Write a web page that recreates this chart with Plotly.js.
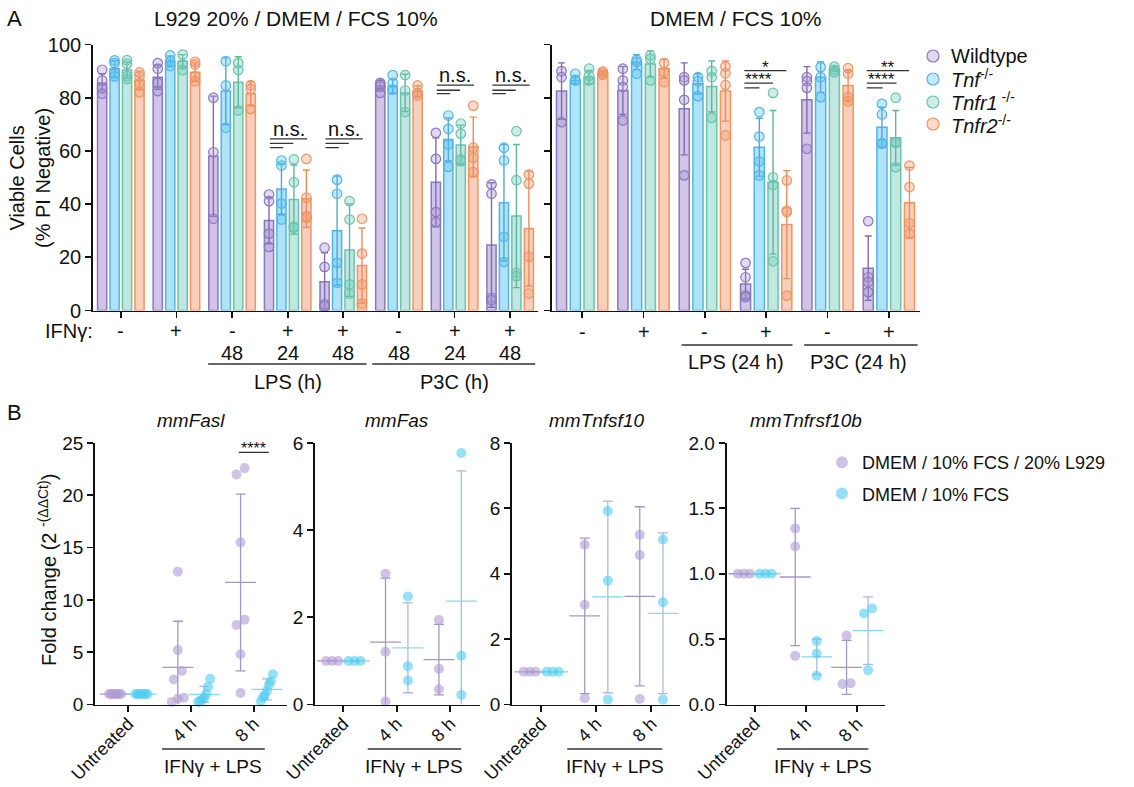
<!DOCTYPE html>
<html><head><meta charset="utf-8">
<script src="https://cdn.plot.ly/plotly-3.0.1.min.js"></script>
<style>html,body{margin:0;padding:0;background:#fff}#chart{width:1134px;height:787px}</style>
</head><body><div id="chart"></div>
<script>
// ---------------- DATA : panel A ----------------
const genotypes = ['Wildtype', '<i>Tnf</i><sup>-/-</sup>', '<i>Tnfr1</i><sup> -/-</sup>', '<i>Tnfr2</i><sup>-/-</sup>'];
// left panel (L929 20% / DMEM / FCS 10%)
const leftIFN = ['-', '+', '-', '+', '+', '-', '+', '+'];
const leftTime = ['', '', '48', '24', '48', '48', '24', '48'];
const leftMeanWT    = [85.5, 87.7, 58.0, 33.8, 10.8, 84.5, 48.2, 24.6];
const leftMeanTnf   = [90.9, 93.7, 82.5, 45.7, 30.0, 84.3, 64.3, 40.5];
const leftMeanTnfr1 = [90.4, 93.7, 85.8, 41.7, 22.7, 81.8, 62.2, 35.5];
const leftMeanTnfr2 = [86.5, 89.6, 81.5, 42.0, 16.9, 82.5, 61.5, 30.8];
const leftSdWT    = [3.5, 4.5, 22.6, 8.7, 10.9, 2.0, 16.7, 23.4];
const leftSdTnf   = [3.0, 2.0, 12.6, 9.5, 20.5, 2.5, 8.1, 21.9];
const leftSdTnfr1 = [3.0, 2.5, 9.6, 13.0, 17.4, 7.0, 7.5, 26.9];
const leftSdTnfr2 = [3.5, 3.5, 4.5, 10.8, 14.1, 2.0, 11.2, 21.6];
const leftPtsWT = [[90.5,86.5,83.5,81.5],[93,90.9,85.6,82.5],[80,59.5,34.5],[43.6,41.1,28.9,23.9],[23.6,16.4,2.3,1.6],[85.6,85,84.3,81.8],[66.8,57,37,33.2],[47.4,43.9,4.8,3.9]];
const leftPtsTnf = [[94,93,89,88],[95.9,93.7,91.9],[93.7,84.6,68.7],[56.4,54.5,40.2,34.2],[49.2,43.9,17.9,10.4],[88.5,85.6,83],[73.3,68.3,62.4,54],[61.2,56.4,27.7,18.2]];
const leftPtsTnfr1 = [[94.1,92.7,88.1,87],[96.2,92.5,90.4],[93,90.4,75.2],[56.8,48.2,31.5,31.1],[41.1,34.2,9.8,6.3],[88.5,82.7,74.6],[70.3,66.5,56.8,56.1],[67.4,49,14.2,12.9]];
const leftPtsTnfr2 = [[89.5,88,85.5,82],[93.5,92.5,88,86.2],[84.7,83.3,75.8],[57,42.4,35.5,34.8],[34.5,21.4,9.8,2.6],[84.6,81.8,80.8],[77,61.2,57.4,52],[51.1,47.7,20.2,6.4]];
// right panel (DMEM / FCS 10%)
const rightIFN = ['-', '+', '-', '+', '-', '+'];
const rightMeanWT    = [82.5, 82.7, 75.8, 10.0, 79.2, 15.9];
const rightMeanTnf   = [86.5, 93.4, 85.2, 61.4, 87.7, 68.9];
const rightMeanTnfr1 = [87.7, 92.7, 84.2, 48.2, 90.9, 64.9];
const rightMeanTnfr2 = [89.2, 90.9, 82.5, 32.3, 84.6, 40.5];
const rightSdWT    = [10.6, 9.0, 17.3, 5.5, 12.5, 12.1];
const rightSdTnf   = [1.5, 2.8, 3.8, 10.9, 5.7, 7.5];
const rightSdTnfr1 = [2.5, 4.9, 9.6, 27.0, 1.0, 10.3];
const rightSdTnfr2 = [0.6, 3.6, 11.3, 20.3, 5.7, 13.3];
const rightPtsWT = [[90,87.7,70.8],[90.9,86.5,84,71.4],[87.7,86.5,79.2,50.8],[17.9,12.5,5.6,5],[87.7,86.2,83.7,60.8],[33.6,12.5,10.7,6.9]];
const rightPtsTnf = [[89,86.7,86.5],[94.2,93.4,89],[87.7,86.2,80.6],[74.6,65.4,56,50.8],[91.5,87.7,80.2],[77.7,73.7,62.9,62.7]];
const rightPtsTnfr1 = [[90.9,88.3,86.5],[95.9,94.6,86.5],[90,87.7,72.4],[81.8,50.1,47.2,18.5],[91.7,90.5,89.6],[80,63.3,63,53.9]];
const rightPtsTnfr2 = [[89.8,89.2,88.6],[93,89.6,85.8],[91.7,89.2,84.8,65.8],[48.9,37.6,37,5.6],[91.1,89,80.2,78.7],[54.5,46.4,32.8,28.8]];

// ---------------- DATA : panel B ----------------
const bGenes = ['mmFasl', 'mmFas', 'mmTnfsf10', 'mmTnfrsf10b'];
const bGroups = ['Untreated', '4 h', '8 h'];
const bMedia = ['DMEM / 10% FCS / 20% L929', 'DMEM / 10% FCS'];
const faslL929 = [[1,1,1,1,1,1,1],[12.7,5.2,3.2,2.4,0.65,0.55,0.25],[22.6,22.0,15.5,8.1,7.6,4.8,1.1]];
const faslFCS  = [[1,1,1,1,1,1,1],[2.45,1.7,1.0,0.6,0.45,0.35,0.25],[2.9,2.2,1.9,1.3,0.9,0.7,0.3]];
const faslMeanL929 = [1, 3.55, 11.67], faslSdL929 = [0, 4.41, 8.45];
const faslMeanFCS  = [1, 0.97, 1.45],  faslSdFCS  = [0, 0.76, 1.0];
const fasL929 = [[1,1,1],[3.0,1.21,0.07],[1.94,0.82,0.35]];
const fasFCS  = [[1,1,1],[2.48,0.88,0.55],[5.77,1.12,0.22]];
const fasMeanL929 = [1, 1.43, 1.03], fasSdL929 = [0, 1.47, 0.81];
const fasMeanFCS  = [1, 1.30, 2.37], fasSdFCS  = [0, 1.03, 2.99];
const tnfsf10L929 = [[1,1,1],[4.89,3.05,0.19],[5.19,4.57,0.17]];
const tnfsf10FCS  = [[1,1,1],[5.92,3.79,0.15],[5.05,3.13,0.15]];
const tnfsf10MeanL929 = [1, 2.71, 3.31], tnfsf10SdL929 = [0, 2.38, 2.74];
const tnfsf10MeanFCS  = [1, 3.29, 2.79], tnfsf10SdFCS  = [0, 2.93, 2.46];
const tnfrsf10bL929 = [[1,1,1],[1.347,1.208,0.372],[0.527,0.162,0.157]];
const tnfrsf10bFCS  = [[1,1,1],[0.486,0.39,0.22],[0.734,0.696,0.263]];
const tnfrsf10bMeanL929 = [1, 0.975, 0.284], tnfrsf10bSdL929 = [0, 0.525, 0.206];
const tnfrsf10bMeanFCS  = [1, 0.365, 0.565], tnfrsf10bSdFCS  = [0, 0.135, 0.258];

// ---------------- STYLE / LAYOUT ----------------
const W = 1134, H = 787;
const FONT = 'Liberation Sans, Arial, Helvetica, sans-serif';
const INK = '#111';
const FS = 20;
const px = v => v / W, py = v => 1 - v / H;

const barFill = ['rgba(170,150,210,0.55)','rgba(95,200,240,0.5)','rgba(130,210,195,0.5)','rgba(240,160,120,0.5)'];
const barLine = ['#8a78bd','#55b4e6','#6cc2ad','#ee9563'];
const errCol  = ['#7d6cb0','#4fa6dc','#62b3a0','#ea8d5c'];
const ptFill  = ['rgba(165,145,210,0.35)','rgba(80,195,240,0.35)','rgba(110,205,185,0.35)','rgba(240,150,105,0.35)'];
const off = [-0.336, -0.112, 0.112, 0.336];
const barW = 0.165;

const bPtCol = ['rgba(175,155,212,0.6)','rgba(80,205,240,0.6)'];
const bMeanCol = ['#a596ca','#86d6f2'];
const bErrCol = ['#a596ca','#a9b9e8'];
const bOff = [-0.21, 0.21];

const domA_y = [py(310.5), py(44.5)];
const domL = [93, 538], domR = [551.5, 919.5];
const bDomY = [py(704.5), py(443)];
const bX = [[95,287],[315,479.5],[512,680],[726.5,885]];
const bRange = [[-0.53,2.53],[-0.53,2.55],[-0.53,2.52],[-0.55,2.54]];
const bYmax = [25, 6, 8, 2];
const bTicks = [[0,5,10,15,20,25],[0,2,4,6],[0,2,4,6,8],[0,0.5,1,1.5,2]];

const traces = [];

function addBarPanel(means, sds, pts, xa, ya) {
  means.forEach((m, s) => {
    traces.push({
      type: 'bar', xaxis: xa, yaxis: ya, showlegend: false, hoverinfo: 'skip',
      x: m.map((_, g) => g + off[s]), y: m, width: barW,
      marker: {color: barFill[s], line: {color: barLine[s], width: 1.5}},
      error_y: {type: 'data', array: sds[s], color: errCol[s], thickness: 1.4, width: 3.5}
    });
  });
  pts.forEach((grp, s) => {
    const xs = [], ys = [];
    grp.forEach((vals, g) => vals.forEach(v => { xs.push(g + off[s]); ys.push(v); }));
    traces.push({
      type: 'scatter', mode: 'markers', xaxis: xa, yaxis: ya, cliponaxis: false,
      x: xs, y: ys, name: genotypes[s], showlegend: false,
      marker: {size: 9.5, color: ptFill[s], line: {color: barLine[s], width: 1.2}}
    });
  });
}
addBarPanel([leftMeanWT,leftMeanTnf,leftMeanTnfr1,leftMeanTnfr2],[leftSdWT,leftSdTnf,leftSdTnfr1,leftSdTnfr2],
            [leftPtsWT,leftPtsTnf,leftPtsTnfr1,leftPtsTnfr2],'x','y');
addBarPanel([rightMeanWT,rightMeanTnf,rightMeanTnfr1,rightMeanTnfr2],[rightSdWT,rightSdTnf,rightSdTnfr1,rightSdTnfr2],
            [rightPtsWT,rightPtsTnf,rightPtsTnfr1,rightPtsTnfr2],'x2','y2');

// simple beeswarm: spread points that would overlap (in pixels)
function swarm(vals, pyu, pxu) {
  const d = 9;
  const idx = vals.map((_, i) => i).sort((a, b) => vals[a] - vals[b]);
  const o = new Array(vals.length).fill(0);
  const clusters = []; let cur = [idx[0]];
  for (let k = 1; k < idx.length; k++) {
    if ((vals[idx[k]] - vals[idx[k-1]]) * pyu < d) cur.push(idx[k]); else { clusters.push(cur); cur = [idx[k]]; }
  }
  clusters.push(cur);
  clusters.forEach(c => {
    const n = c.length; if (n < 2) return;
    const sp = Math.min(d * 0.9, 12 / (n - 1));
    c.forEach((i, j) => { o[i] = ((j - (n - 1) / 2) * sp) / pxu; });
  });
  return o;
}

const bPts = [[faslL929, faslFCS],[fasL929, fasFCS],[tnfsf10L929, tnfsf10FCS],[tnfrsf10bL929, tnfrsf10bFCS]];
const bMeans = [[faslMeanL929, faslMeanFCS],[fasMeanL929, fasMeanFCS],[tnfsf10MeanL929, tnfsf10MeanFCS],[tnfrsf10bMeanL929, tnfrsf10bMeanFCS]];
const bSds = [[faslSdL929, faslSdFCS],[fasSdL929, fasSdFCS],[tnfsf10SdL929, tnfsf10SdFCS],[tnfrsf10bSdL929, tnfrsf10bSdFCS]];

bGenes.forEach((gene, k) => {
  const xa = 'x' + (k + 3), ya = 'y' + (k + 3);
  const pxu = (bX[k][1] - bX[k][0]) / (bRange[k][1] - bRange[k][0]);
  const pyu = (704.5 - 443) / bYmax[k];
  [0, 1].forEach(s => {
    traces.push({
      type: 'scatter', mode: 'markers', xaxis: xa, yaxis: ya, showlegend: false, hoverinfo: 'skip',
      x: bMeans[k][s].map((_, g) => g + bOff[s]), y: bMeans[k][s],
      marker: {symbol: 'line-ew', size: 22, line: {color: bMeanCol[s], width: 1.3}},
      error_y: {type: 'data', array: bSds[k][s], color: bErrCol[s], thickness: 1.3, width: 5}
    });
  });
  [0, 1].forEach(s => {
    const xs = [], ys = [];
    bPts[k][s].forEach((vals, g) => {
      const o = swarm(vals, pyu, pxu);
      vals.forEach((v, i) => { xs.push(g + bOff[s] + o[i]); ys.push(v); });
    });
    traces.push({
      type: 'scatter', mode: 'markers', xaxis: xa, yaxis: ya, cliponaxis: false,
      x: xs, y: ys, name: bMedia[s], showlegend: k === 0, legend: 'legend2', legendgroup: 'b' + s,
      marker: {size: 10, color: bPtCol[s]}
    });
  });
});

// ---------------- axes ----------------
function axBase(extra, fs) {
  return Object.assign({showline: true, linecolor: INK, linewidth: 1.8, ticks: 'outside', ticklen: 6,
    tickwidth: 1.8, tickcolor: INK, showgrid: false, zeroline: false,
    tickfont: {family: FONT, size: fs || FS, color: INK}, fixedrange: true}, extra);
}
const layout = {
  width: W, height: H, margin: {l: 0, r: 0, t: 0, b: 0}, paper_bgcolor: '#fff', plot_bgcolor: 'rgba(0,0,0,0)',
  barmode: 'overlay', font: {family: FONT, color: INK, size: FS}, showlegend: true,
  xaxis: axBase({domain: [px(domL[0]), px(domL[1])], range: [-0.5, 7.5], anchor: 'y', tickvals: leftIFN.map((_, g) => g), showticklabels: false}),
  yaxis: axBase({domain: domA_y, range: [0, 100], anchor: 'x', tickvals: [0,20,40,60,80,100]}),
  xaxis2: axBase({domain: [px(domR[0]), px(domR[1])], range: [-0.5, 5.5], anchor: 'y2', tickvals: rightIFN.map((_, g) => g), showticklabels: false}),
  yaxis2: axBase({domain: domA_y, range: [0, 100], anchor: 'x2', tickvals: [0,20,40,60,80,100], showticklabels: false}),
  legend2: {x: px(822), y: py(444), xanchor: 'left', yanchor: 'top', font: {family: FONT, size: 18, color: INK},
    itemsizing: 'constant', bgcolor: 'rgba(0,0,0,0)', borderwidth: 0, tracegroupgap: 5},
  shapes: [], annotations: []
};
bGenes.forEach((gene, k) => {
  const n = k + 3;
  layout['xaxis' + n] = axBase({domain: [px(bX[k][0]), px(bX[k][1])], range: bRange[k], anchor: 'y' + n,
    tickvals: bGroups.map((_, g) => g), ticktext: bGroups, tickangle: -45, ticklabelstandoff: -6}, 18);
  layout['yaxis' + n] = axBase({domain: bDomY, range: [0, bYmax[k]], anchor: 'x' + n, tickvals: bTicks[k],
    tickformat: k === 3 ? '.1f' : ''}, 19);
});

const A = layout.annotations, S = layout.shapes;
function txt(text, x, y, o) {
  A.push(Object.assign({text, x, y, xref: 'paper', yref: 'paper', showarrow: false, xanchor: 'center', yanchor: 'middle',
    font: {family: FONT, size: FS, color: INK}}, o || {}));
}
function line(x0, x1, y0, y1, xref, yref) {
  S.push({type: 'line', x0, x1, y0, y1, xref, yref, line: {color: '#333', width: 1.3}});
}

// headers
txt('A', px(14), py(18), {font: {family: FONT, size: 22, color: INK}});
txt('B', px(14), py(412), {font: {family: FONT, size: 22, color: INK}});
txt('L929 20% / DMEM / FCS 10%', px(296), py(18), {font: {family: FONT, size: 21, color: INK}});
txt('DMEM / FCS 10%', px(736), py(18), {font: {family: FONT, size: 21, color: INK}});
txt('Viable Cells<br>(% PI Negative)', px(30), py(178), {textangle: -90});
txt('Fold change (2 <sup>-(ΔΔCt)</sup>)', px(47), py(570), {textangle: -90});

// manual legend for panel A (genotypes)
const legRows = [56, 79, 102, 124];
genotypes.forEach((g, s) => {
  S.push({type: 'circle', xref: 'paper', yref: 'paper', x0: px(927), x1: px(939), y0: py(legRows[s] + 6), y1: py(legRows[s] - 6),
    fillcolor: ptFill[s], line: {color: barLine[s], width: 1.2}});
  txt(g, px(949), py(legRows[s]), {xanchor: 'left'});
});

// panel A category rows (left)
txt('IFNγ:', px(94), py(331), {xanchor: 'right', borderpad: 0});
leftIFN.forEach((t, g) => txt(t, g, py(331), {xref: 'x'}));
leftTime.forEach((t, g) => { if (t) txt(t, g, py(353), {xref: 'x'}); });
line(2 - 0.43, 4 + 0.42, py(364), py(364), 'x', 'paper');
line(5 - 0.48, 7 + 0.45, py(364), py(364), 'x', 'paper');
txt('LPS (h)', 3, py(382), {xref: 'x'});
txt('P3C (h)', 6, py(382), {xref: 'x'});
// right
rightIFN.forEach((t, g) => txt(t, g, py(332), {xref: 'x2'}));
line(2 - 0.38, 3 + 0.43, py(345), py(345), 'x2', 'paper');
line(4 - 0.38, 5 + 0.47, py(345), py(345), 'x2', 'paper');
txt('LPS (24 h)', 2.5, py(362), {xref: 'x2'});
txt('P3C (24 h)', 4.5, py(362), {xref: 'x2'});

// significance brackets panel A
function sigBlock(g, xref, yref, ys, ends, labels, start) {
  ys.forEach((yv, i) => {
    line(g + start, g + ends[i], yv, yv, xref, yref);
    if (labels[i]) {
      const star = labels[i].indexOf('*') >= 0;
      A.push({text: labels[i], x: g + (start + ends[i]) / 2, y: yv, xref, yref, showarrow: false,
        xanchor: 'center', yanchor: 'bottom', yshift: star ? -7 : -2, borderpad: 0,
        font: {family: FONT, size: star ? 17 : 20, color: INK}});
    }
  });
}
[3, 4].forEach(g => sigBlock(g, 'x', 'y', [64.5, 62.8, 61.2], [0.35, 0.10, -0.08], ['n.s.', '', ''], -0.32));
[6, 7].forEach(g => sigBlock(g, 'x', 'y', [84.7, 82.8, 81.5], [0.35, 0.10, -0.08], ['n.s.', '', ''], -0.32));
sigBlock(3, 'x2', 'y2', [90.2, 85.5, 83.7], [0.33, 0.11, -0.11], ['*', '****', ''], -0.355);
sigBlock(5, 'x2', 'y2', [90.2, 85.5, 83.7], [0.33, 0.125, -0.10], ['**', '****', ''], -0.36);

// panel B titles, group lines and significance
bGenes.forEach((gene, k) => {
  const cx = (bX[k][0] + bX[k][1]) / 2;
  txt('<i>' + gene + '</i>', px(cx), py(421), {font: {family: FONT, size: 19, color: INK}});
  const pxu = (bX[k][1] - bX[k][0]) / (bRange[k][1] - bRange[k][0]);
  const toPx = v => bX[k][0] + (v - bRange[k][0]) * pxu;
  const x0 = toPx(1) - 29, x1 = toPx(2) + 11;
  line(px(x0), px(x1), py(749), py(749), 'paper', 'paper');
  txt('IFNγ + LPS', px((x0 + x1) / 2), py(766), {font: {family: FONT, size: 19, color: INK}});
});
line(2 - 0.24, 2 + 0.24, 24.1, 24.1, 'x3', 'y3');
A.push({text: '****', x: 2, y: 24.1, xref: 'x3', yref: 'y3', showarrow: false, xanchor: 'center', yanchor: 'bottom',
  yshift: -6, borderpad: 0, font: {family: FONT, size: 16, color: INK}});

Plotly.newPlot('chart', traces, layout, {staticPlot: true, displayModeBar: false});
</script></body></html>
